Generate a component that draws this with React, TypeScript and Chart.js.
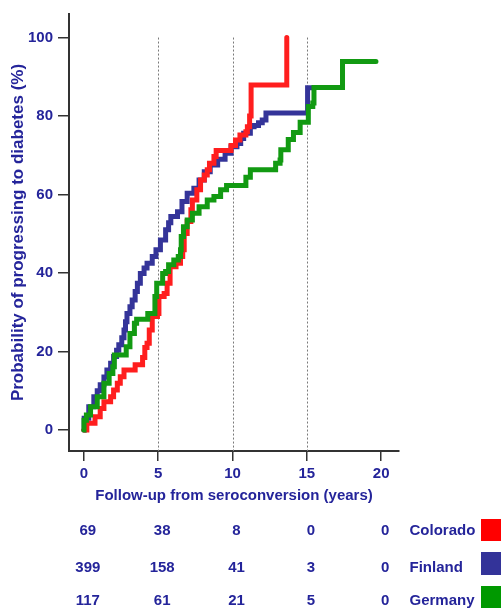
import React, { useEffect, useRef } from "react";
import { Chart, registerables } from "chart.js";

Chart.register(...registerables);

// ---------- data ----------
const coloradoYears = [0, 0.2, 0.75, 1.1, 1.35, 1.8, 2.0, 2.25, 2.45, 2.7, 3.45, 3.95, 4.1, 4.25, 4.4, 4.6, 4.95, 5.05, 5.4, 5.6, 5.8, 6.2, 6.5, 6.65, 6.75, 6.95, 7.2, 7.3, 7.6, 7.85, 8.1, 8.3, 8.45, 8.75, 8.9, 9.9, 10.2, 10.5, 10.9, 11.0, 11.15, 11.25, 13.65];
const coloradoProb = [0, 1.7, 3.4, 5.5, 7.2, 8.5, 10.2, 11.9, 13.6, 15.3, 16.6, 18.5, 21.0, 22.1, 25.5, 28.9, 29.7, 34.0, 34.8, 37.4, 41.6, 42.5, 44.2, 45.9, 50.1, 53.1, 56.1, 58.6, 61.2, 63.7, 65.0, 66.3, 68.0, 69.7, 71.2, 72.5, 73.9, 75.2, 76.0, 77.3, 80.0, 87.9, 100];

const finlandYears = [0, 0.02, 0.33, 0.67, 0.9, 1.1, 1.35, 1.55, 1.8, 2.0, 2.2, 2.35, 2.55, 2.7, 2.8, 2.9, 3.1, 3.25, 3.45, 3.6, 3.8, 4.05, 4.25, 4.6, 4.85, 5.15, 5.5, 5.7, 5.85, 6.3, 6.6, 6.95, 7.4, 7.75, 8.1, 8.5, 9.0, 9.5, 9.9, 10.3, 10.55, 10.75, 11.2, 11.45, 11.75, 12.0, 12.25, 15.05, 15.4];
const finlandProb = [0, 3, 5.9, 8.5, 10, 11.5, 13.5, 15.3, 17, 18.7, 20.3, 21.7, 23.5, 25.5, 27.6, 29.7, 31.4, 33.1, 35.3, 37.4, 39.9, 41.3, 42.5, 44.2, 45.9, 48.4, 51, 52.8, 54.4, 55.6, 58.2, 60.3, 61.6, 63.7, 65.8, 67.5, 69, 70.5, 72.2, 73, 74.3, 75.6, 77.3, 77.6, 78.3, 79, 80.8, 87.2, 87.2];

const germanyYears = [0, 0.01, 0.17, 0.45, 0.9, 1.35, 1.7, 1.95, 2.05, 2.85, 3.1, 3.4, 3.55, 4.3, 4.78, 4.9, 5.3, 5.5, 5.7, 6.05, 6.35, 6.5, 6.55, 6.7, 6.95, 7.3, 7.75, 8.3, 8.75, 9.2, 9.6, 10.9, 11.2, 12.9, 13.2, 13.25, 13.75, 14.1, 14.55, 15.1, 15.4, 15.48, 17.4, 19.65];
const germanyProb = [0, 2.5, 3.8, 5.9, 8.5, 11.9, 14.4, 16.1, 19.1, 21.2, 24.6, 27.2, 28.2, 29.7, 34, 37.4, 39.9, 40.4, 42.1, 43.3, 44.2, 45.9, 49.3, 51.8, 53.5, 55.2, 56.9, 58.6, 59.5, 61.2, 62.3, 64.4, 66.3, 68, 68.8, 71.4, 74, 75.8, 78.4, 82.4, 83.3, 87.3, 93.9, 93.9];

const xTickValues = [0, 5, 10, 15, 20];
const yTickValues = [0, 20, 40, 60, 80, 100];
const referenceYears = [5, 10, 15];

const tableYears = [0, 5, 10, 15, 20];
const atRiskColorado = [69, 38, 8, 0, 0];
const atRiskFinland = [399, 158, 41, 3, 0];
const atRiskGermany = [117, 61, 21, 5, 0];
const seriesNames = ["Colorado", "Finland", "Germany"];

// ---------- styles ----------
const FONT = 'Arial, "Liberation Sans", sans-serif';
const TEXT = "#24249a";
const RED = "#ff1e1e";
const BLUE = "#343499";
const GREEN = "#129a12";
const SQUARE_COLORS = ["#ff0000", "#333399", "#009900"];

const toPoints = (xs: number[], ys: number[]) => xs.map((x, i) => ({ x, y: ys[i] }));

const dottedLines = {
  id: "dottedLines",
  beforeDatasetsDraw(chart: any) {
    const { ctx, scales, chartArea } = chart;
    ctx.save();
    ctx.strokeStyle = "#7a7a7a";
    ctx.lineWidth = 1;
    ctx.setLineDash([2, 2]);
    referenceYears.forEach((v) => {
      const x = Math.round(scales.x.getPixelForValue(v)) + 0.5;
      ctx.beginPath();
      ctx.moveTo(x, scales.y.getPixelForValue(100));
      ctx.lineTo(x, chartArea.bottom);
      ctx.stroke();
    });
    ctx.restore();
  },
};

const riskTable = {
  id: "riskTable",
  afterDraw(chart: any) {
    const { ctx, scales } = chart;
    const rows = [atRiskColorado, atRiskFinland, atRiskGermany];
    const baselines = [535, 571.5, 605];
    const squareTops = [519, 552, 586];
    const squareHeights = [22, 23, 22];
    ctx.save();
    ctx.font = `bold 15px ${FONT}`;
    ctx.textBaseline = "alphabetic";
    rows.forEach((row, r) => {
      ctx.fillStyle = TEXT;
      ctx.textAlign = "center";
      row.forEach((n, i) => {
        ctx.fillText(String(n), scales.x.getPixelForValue(tableYears[i]) + 4, baselines[r]);
      });
      ctx.textAlign = "left";
      ctx.fillText(seriesNames[r], 409.5, baselines[r]);
      ctx.fillStyle = SQUARE_COLORS[r];
      ctx.fillRect(481, squareTops[r], 20, squareHeights[r]);
    });
    ctx.restore();
  },
};

export default function App() {
  const ref = useRef<HTMLCanvasElement>(null);

  useEffect(() => {
    if (!ref.current) return;
    const line = (label: string, xs: number[], ys: number[], color: string, order: number) => ({
      label,
      data: toPoints(xs, ys),
      borderColor: color,
      backgroundColor: color,
      borderWidth: 5,
      stepped: true as const,
      pointRadius: 0,
      borderCapStyle: "round" as const,
      borderJoinStyle: "miter" as const,
      fill: false,
      order,
    });
    const chart = new Chart(ref.current, {
      type: "line",
      data: {
        datasets: [
          line("Colorado", coloradoYears, coloradoProb, RED, 1),
          line("Finland", finlandYears, finlandProb, BLUE, 2),
          line("Germany", germanyYears, germanyProb, GREEN, 0),
        ],
      },
      options: {
        responsive: false,
        animation: false,
        devicePixelRatio: 1,
        layout: { padding: { left: 0, top: 14, right: 102, bottom: 103 } },
        plugins: { legend: { display: false }, tooltip: { enabled: false } },
        scales: {
          x: {
            type: "linear",
            min: -1,
            max: 21.2,
            afterBuildTicks: (s: any) => {
              s.ticks = xTickValues.map((value) => ({ value }));
            },
            afterFit: (s: any) => {
              s.height = 54;
            },
            grid: { drawOnChartArea: false, drawTicks: true, tickLength: 10, color: "#333", lineWidth: 1.5 },
            border: { display: true, color: "#333", width: 2 },
            ticks: { color: TEXT, font: { family: FONT, size: 15, weight: "bold" }, padding: 4, maxRotation: 0 },
            title: {
              display: true,
              text: "Follow-up from seroconversion (years)",
              color: TEXT,
              font: { family: FONT, size: 15, weight: "bold" },
              padding: { top: 0, bottom: 0 },
            },
          },
          y: {
            type: "linear",
            min: -5.35,
            max: 106,
            afterBuildTicks: (s: any) => {
              s.ticks = yTickValues.map((value) => ({ value }));
            },
            afterFit: (s: any) => {
              s.width = 69;
            },
            grid: { drawOnChartArea: false, drawTicks: true, tickLength: 11, color: "#333", lineWidth: 1.5 },
            border: { display: true, color: "#333", width: 2 },
            ticks: { color: TEXT, font: { family: FONT, size: 15, weight: "bold" }, padding: 5 },
            title: {
              display: true,
              text: "Probability of progressing to diabetes (%)",
              color: TEXT,
              font: { family: FONT, size: 17, weight: "bold" },
              padding: { top: 8, bottom: 0 },
            },
          },
        },
      },
      plugins: [dottedLines, riskTable],
    });
    return () => chart.destroy();
  }, []);

  return (
    <div style={{ position: "fixed", left: 0, top: 0, width: 501, height: 608, background: "#fff" }}>
      <canvas ref={ref} width={501} height={608} style={{ display: "block" }} />
    </div>
  );
}
